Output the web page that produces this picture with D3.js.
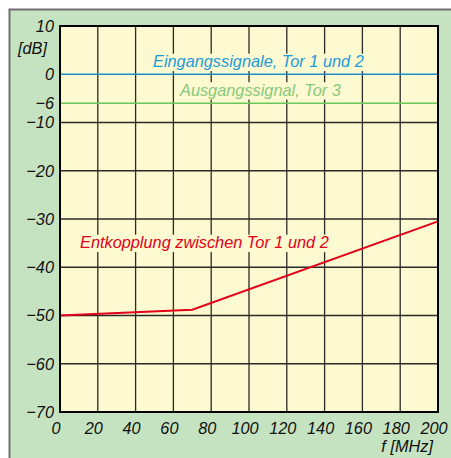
<!DOCTYPE html>
<html><head><meta charset="utf-8">
<script src="https://cdn.jsdelivr.net/npm/d3@7"></script>
<style>
body{margin:0;background:#fff;}
svg{display:block;}
text{font-family:"Liberation Sans",Arial,sans-serif;font-style:italic;}
</style></head>
<body>
<script>
// ---- data ----
const xTicks = [0,20,40,60,80,100,120,140,160,180,200];
const yTicks = [10,0,-6,-10,-20,-30,-40,-50,-60,-70];
const yGrid = [10,-10,-20,-30,-40,-50,-60,-70];
const freq = [0,70,200];
const decoupling = [-50,-48.8,-30.5];
const inputLevel = 0;     // Eingangssignale, Tor 1 und 2
const outputLevel = -6;   // Ausgangssignal, Tor 3
const labels = {
  input: "Eingangssignale, Tor 1 und 2",
  output: "Ausgangssignal, Tor 3",
  decoupling: "Entkopplung zwischen Tor 1 und 2",
  yUnit: "[dB]",
  xUnit: "f [MHz]"
};

// ---- layout ----
const W = 451, H = 458;
const m = {left:60, right:438, top:26, bottom:412};
const FS = 17, SX = 0.96;
const cBg = "#c6e3c1", cPlot = "#fdf9d0", cFrame = "#707070";
const cBlue = "#1a8fcc", cBlueTxt = "#1d9bd8", cGreen = "#6cc75a", cGreenTxt = "#86c979", cRed = "#e2001a";

const x = d3.scaleLinear().domain([0,200]).range([m.left,m.right]);
const y = d3.scaleLinear().domain([-70,10]).range([m.bottom,m.top]);

const svg = d3.select("body").append("svg").attr("width",W).attr("height",H);

// frame
svg.append("rect").attr("x",9.5).attr("y",9.5).attr("width",W+10).attr("height",H+10)
  .attr("fill",cBg).attr("stroke",cFrame).attr("stroke-width",2);

// plot area
svg.append("rect").attr("x",m.left).attr("y",m.top).attr("width",m.right-m.left).attr("height",m.bottom-m.top)
  .attr("fill",cPlot);

// grid
const grid = svg.append("g").attr("stroke","#2b2a26").attr("stroke-width",1.3);
grid.selectAll("line.v").data(xTicks).join("line").attr("class","v")
  .attr("x1",d=>x(d)).attr("x2",d=>x(d)).attr("y1",m.top).attr("y2",m.bottom);
grid.selectAll("line.h").data(yGrid).join("line").attr("class","h")
  .attr("x1",m.left).attr("x2",m.right).attr("y1",d=>y(d)).attr("y2",d=>y(d));

// reference level lines
svg.append("line").attr("x1",m.left).attr("x2",m.right).attr("y1",y(inputLevel)).attr("y2",y(inputLevel))
  .attr("stroke",cBlue).attr("stroke-width",1.4);
svg.append("line").attr("x1",m.left).attr("x2",m.right).attr("y1",y(outputLevel)).attr("y2",y(outputLevel))
  .attr("stroke",cGreen).attr("stroke-width",1.4);

// labels with halo background
function label(txt, xx, yy, color){
  const g = svg.append("g").attr("transform",`translate(${xx},${yy}) scale(${SX},1)`);
  const bg = g.append("rect").attr("fill",cPlot);
  const t = g.append("text").attr("font-size",FS).attr("fill",color).text(txt);
  const b = t.node().getBBox();
  bg.attr("x",b.x-1).attr("y",b.y+2).attr("width",b.width+3).attr("height",b.height-2);
  return g;
}

// decoupling curve
const line = d3.line().x((d,i)=>x(freq[i])).y(d=>y(d));
label(labels.input, 153, 67, cBlueTxt);
label(labels.output, 180, 95.5, cGreenTxt);
label(labels.decoupling, 80, 248, cRed);
svg.append("path").datum(decoupling).attr("d",line).attr("fill","none")
  .attr("stroke",cRed).attr("stroke-width",2);

// plot border
svg.append("rect").attr("x",m.left).attr("y",m.top).attr("width",m.right-m.left).attr("height",m.bottom-m.top)
  .attr("fill","none").attr("stroke","#000").attr("stroke-width",2);

// axes (labels only)
const fmt = d => (d<0 ? "\u2212"+Math.abs(d) : String(d));
const ya = svg.append("g").attr("transform",`translate(${m.left},0)`)
  .call(d3.axisLeft(y).tickValues(yTicks).tickFormat(fmt).tickSize(0).tickPadding(6));
ya.select(".domain").remove();
ya.selectAll("text").attr("font-size",FS).attr("font-family",null).attr("fill","#111")
  .attr("x",-6/SX).attr("transform",`scale(${SX},1)`);

const xa = svg.append("g").attr("transform",`translate(0,${m.bottom})`)
  .call(d3.axisBottom(x).tickValues(xTicks).tickFormat(d=>String(d)).tickSize(0).tickPadding(10));
xa.select(".domain").remove();
xa.selectAll("text").attr("font-size",FS).attr("font-family",null).attr("fill","#111")
  .attr("x",-4.5/SX).attr("transform",`scale(${SX},1)`);

// units
svg.append("text").attr("transform",`translate(47,54) scale(${SX},1)`).attr("text-anchor","end")
  .attr("font-size",FS).attr("fill","#111").text(labels.yUnit);
svg.append("text").attr("transform",`translate(433,452) scale(${SX},1)`).attr("text-anchor","end")
  .attr("font-size",FS).attr("fill","#111").text(labels.xUnit);
</script>
</body></html>
